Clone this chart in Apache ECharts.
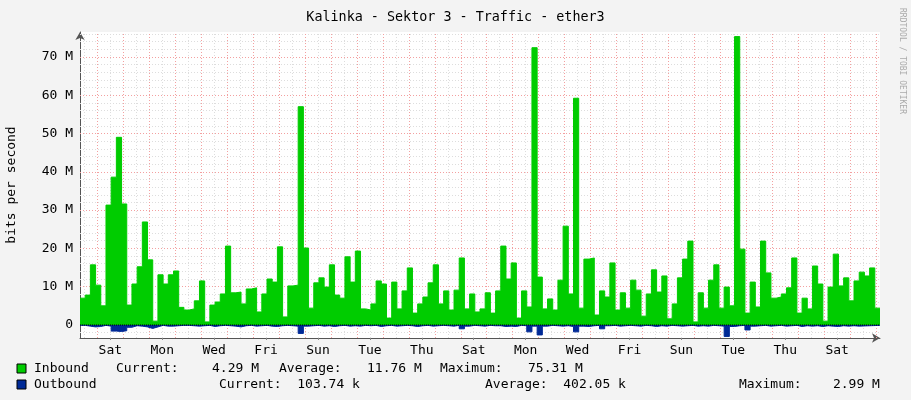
<!DOCTYPE html>
<html><head><meta charset="utf-8">
<script src="https://cdn.jsdelivr.net/npm/echarts@6/dist/echarts.min.js"></script>
<style>html,body{margin:0;padding:0;background:#f3f3f3}#c{width:911px;height:400px}</style>
</head><body><div id="c"></div>
<script>
// Inbound traffic per sample (Mbit/s)
const inbound = [
7.0,7.8,15.7,10.4,5.0,31.3,38.6,49.0,31.6,5.2,10.7,15.2,26.9,17.0,1.0,13.1,10.7,13.1,14.1,4.6,
3.9,4.2,6.3,11.5,0.8,5.2,6.0,8.1,20.6,8.4,8.6,5.5,9.4,9.7,3.4,8.1,12.0,11.2,20.4,2.1,
10.2,10.4,57.0,20.1,4.4,11.0,12.3,9.9,15.7,7.8,7.0,17.8,
11.2,19.3,4.2,3.9,5.5,11.5,10.7,1.8,11.2,4.2,8.9,14.9,3.1,5.5,7.3,11.0,15.7,5.5,8.9,3.9,
9.1,17.5,4.2,8.1,3.4,4.2,8.4,3.1,8.9,20.6,12.0,16.2,1.8,8.9,4.7,72.4,12.5,4.2,6.8,3.9,
11.7,25.8,8.1,59.2,4.4,17.2,17.5,2.6,8.9,7.3,16.2,
3.9,8.4,4.4,11.7,9.1,2.3,8.1,14.4,8.6,12.8,1.6,5.5,12.3,17.2,21.9,0.8,8.4,4.4,11.7,15.7,
4.4,9.9,5.0,75.3,19.8,3.1,11.2,4.7,21.9,13.6,7.0,7.3,8.1,9.7,17.5,3.1,7.0,4.2,15.4,10.7,
1.0,9.9,18.5,10.2,12.3,6.3,11.5,13.8,12.8,14.9,4.4
];
// Outbound traffic per sample (Mbit/s), drawn below zero
const outbound = [
0.1,0.3,0.5,0.4,0.1,0.3,1.6,1.7,1.5,0.6,0.2,0.3,0.5,0.9,0.5,0.1,0.3,0.3,0.2,0.1,
0.1,0.2,0.3,0.2,0.1,0.4,0.2,0.1,0.2,0.3,0.5,0.2,0.1,0.3,0.2,0.1,0.3,0.4,0.2,0.1,
0.2,0.3,2.2,0.3,0.2,0.1,0.3,0.2,0.4,0.2,0.1,0.3,0.2,0.3,0.1,0.2,0.1,0.4,0.2,0.1,
0.3,0.2,0.1,0.2,0.4,0.2,0.1,0.3,0.2,0.1,0.2,0.3,0.1,1.0,0.3,0.1,0.2,0.3,0.1,0.2,
0.2,0.4,0.3,0.4,0.1,0.2,1.8,0.3,2.6,0.3,0.1,0.2,0.3,0.2,0.4,1.8,0.3,0.4,0.2,0.1,
1.0,0.2,0.1,0.3,0.2,0.1,0.2,0.3,0.1,0.2,0.4,0.2,0.3,0.1,0.2,0.3,0.2,0.1,0.3,0.2,
0.3,0.1,0.2,0.3,2.99,0.4,0.2,0.1,1.3,0.3,0.2,0.1,0.3,0.2,0.1,0.3,0.2,0.1,0.4,0.2,
0.3,0.2,0.4,0.2,0.3,0.4,0.2,0.3,0.2,0.3,0.1
];
const dayLabels = ['Sat','Mon','Wed','Fri','Sun','Tue','Thu','Sat','Mon','Wed','Fri','Sun','Tue','Thu','Sat'];
const yTicks = [0,10,20,30,40,50,60,70];

const X0 = -0.667, X1 = 30.15, Y0 = -3.4, Y1 = 76.5;
const step = (X1 - X0) / inbound.length;
const toPts = (arr, sign) => {
  const p = arr.map((v, i) => [X0 + i * step, sign * v]);
  p.push([X1, sign * arr[arr.length - 1]]);
  return p;
};
const labelPos = dayLabels.map((_, i) => 0.5 + 2 * i);
const labelMap = {}; labelPos.forEach((p, i) => labelMap[p] = dayLabels[i]);

const vLines = [], vMinor = [];
for (let d = 0; d <= 30; d++) vLines.push({xAxis: d});
for (let d = -0.5; d <= 30; d += 1) vMinor.push({xAxis: d});
const hLines = yTicks.map(v => ({yAxis: v}));
const hMinor = [];
for (let v = -2; v <= 76; v += 2) if (v % 10 !== 0) hMinor.push({yAxis: v});

const mono = 'DejaVu Sans Mono';
const T = (x, y, s) => ({type: 'text', x: x, y: y, z: 10, style: {text: s, fontFamily: mono, fontSize: 13, fill: '#000', textVerticalAlign: 'middle'}});
const chart = echarts.init(document.getElementById('c'));
chart.setOption({
  backgroundColor: '#f3f3f3',
  animation: false,
  title: {text: 'Kalinka - Sektor 3 - Traffic - ether3', left: 'center', top: 6,
    textStyle: {fontFamily: mono, fontSize: 13.4, fontWeight: 'normal', color: '#000'}},
  grid: {left: 80, right: 31, top: 32, bottom: 62, show: true, backgroundColor: '#fff', borderWidth: 0,
    containLabel: false, outerBoundsMode: 'none'},
  xAxis: {type: 'value', min: X0, max: X1,
    axisLine: {onZero: false, lineStyle: {color: '#555', width: 1}, symbol: ['none', 'arrow'], symbolSize: [7, 8]},
    axisTick: {show: true, customValues: labelPos, length: 2, lineStyle: {color: '#888'}},
    splitLine: {show: false},
    axisLabel: {customValues: labelPos, formatter: v => labelMap[v] || '', fontFamily: mono, fontSize: 13, color: '#000', margin: 6}},
  yAxis: {type: 'value', min: Y0, max: Y1,
    name: 'bits per second', nameLocation: 'middle', nameGap: 62, nameRotate: 90,
    nameTextStyle: {fontFamily: mono, fontSize: 13, color: '#000'},
    axisLine: {show: true, onZero: false, lineStyle: {color: '#555'}, symbol: ['none', 'arrow'], symbolSize: [7, 8]},
    axisTick: {show: false},
    splitLine: {show: false},
    axisLabel: {customValues: yTicks, formatter: v => v === 0 ? '0' : v + ' M', fontFamily: mono, fontSize: 13, color: '#000', margin: 7}},
  series: [
    {type: 'line', data: [], silent: true, z: 1,
      markLine: {silent: true, symbol: 'none', label: {show: false}, z: 1,
        lineStyle: {color: '#ddd', type: [1, 2], width: 1}, data: vMinor.concat(hMinor)}},
    {type: 'line', data: [], silent: true, z: 1,
      markLine: {silent: true, symbol: 'none', label: {show: false}, z: 1,
        lineStyle: {color: '#f3a0a0', type: [1, 2], width: 1}, data: vLines.concat(hLines)}},
    {name: 'Inbound', type: 'line', step: 'end', data: toPts(inbound, 1), symbol: 'none', z: 3,
      lineStyle: {width: 1, color: '#00cc00'}, areaStyle: {color: '#00cc00', opacity: 1}},
    {name: 'Outbound', type: 'line', step: 'end', data: toPts(outbound, -1), symbol: 'none', z: 3,
      lineStyle: {width: 1, color: '#002a97'}, areaStyle: {color: '#002a97', opacity: 1}},
    {type: 'line', data: [[X0, 0], [X1, 0]], symbol: 'none', silent: true, z: 4,
      lineStyle: {width: 1, color: '#000', type: [1, 1]}}
  ],
  graphic: [
    {type: 'text', left: 898, top: 8, rotation: -Math.PI / 2, originX: 0, originY: 0,
      style: {text: 'RRDTOOL / TOBI OETIKER', fontFamily: mono, fontSize: 8, fill: '#aaa'}},
    {type: 'rect', shape: {x: 17, y: 364, width: 9, height: 9}, style: {fill: '#00cc00', stroke: '#000', lineWidth: 1}},
    {type: 'rect', shape: {x: 17, y: 380, width: 9, height: 9}, style: {fill: '#002a97', stroke: '#000', lineWidth: 1}},
    T(34, 369, 'Inbound'), T(116, 369, 'Current:'), T(212, 369, '4.29 M'),
    T(279, 369, 'Average:'), T(367, 369, '11.76 M'), T(440, 369, 'Maximum:'), T(528, 369, '75.31 M'),
    T(34, 385, 'Outbound'), T(219, 385, 'Current:  103.74 k'),
    T(485, 385, 'Average:  402.05 k'), T(739, 385, 'Maximum:    2.99 M')
  ]
});
</script></body></html>
